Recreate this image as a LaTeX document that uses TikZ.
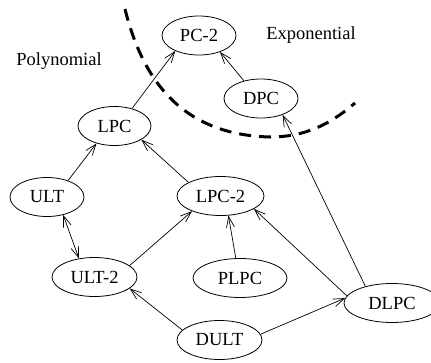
\documentclass[tikz,border=0pt]{standalone}
\usepackage{fontspec}
\setmainfont{Liberation Serif}
\usetikzlibrary{shapes.geometric,arrows.meta}

\begin{document}
\begin{tikzpicture}[x=1pt,y=-1pt,
  font=\fontsize{18.5}{22}\selectfont,
  >={Straight Barb[length=11pt,width=8pt]},
  state/.style={ellipse,draw,line width=0.8pt,inner sep=0pt,minimum height=39pt,minimum width=74pt},
  edge/.style={line width=0.7pt}]
\useasboundingbox (0,0) rectangle (431,362);

\draw[line width=3pt,dash pattern=on 12pt off 8pt] (125,9) .. controls (145,90) and (190,135) .. (270,137) .. controls (310,137) and (335,120) .. (355,103);

\node at (59,61) {Polynomial};
\node at (311,35) {Exponential};

\node[state] (pc2) at (199,35.5) {PC-2};
\node[state,minimum width=73pt] (lpc) at (114.5,126) {LPC};
\node[state] (dpc) at (261,98.5) {DPC};
\node[state] (ult) at (47,197) {ULT};
\node[state,minimum width=87pt] (lpc2) at (220.5,196) {LPC-2};
\node[state,minimum width=85pt] (ult2) at (94.5,277) {ULT-2};
\node[state,minimum width=94pt] (plpc) at (240,278) {PLPC};
\node[state,minimum width=85pt] (dult) at (219.5,340) {DULT};
\node[state,minimum width=96pt] (dlpc) at (392,303) {DLPC};

\draw[edge,->] (lpc.45) -- (pc2.-147);
\draw[edge,->] (dpc.134) -- (pc2.-38);
\draw[edge,->] (ult.38) -- (lpc.-136);
\draw[edge,->] (lpc2.157) -- (lpc.-27);
\draw[edge,<->] (ult.-48) -- (ult2.130);
\draw[edge,->] (ult2.18) -- (lpc2.-152);
\draw[edge,->] (plpc.102) -- (lpc2.-68);
\draw[edge,->] (dlpc.171) -- (lpc2.-21);
\draw[edge,->] (dlpc.148) -- (dpc.-37);
\draw[edge,->] (dult.165) -- (ult2.-18);
\draw[edge,->] (dult.8) -- (dlpc.174);
\end{tikzpicture}
\end{document}
